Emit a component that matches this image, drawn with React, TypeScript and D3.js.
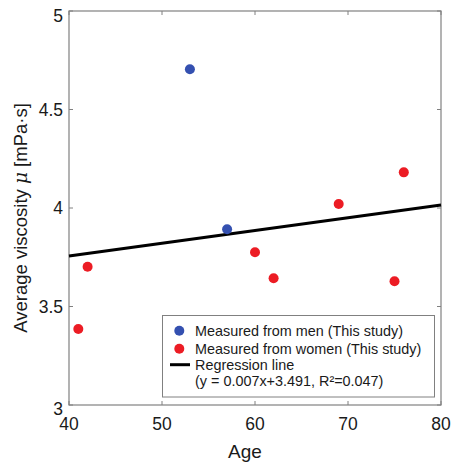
import React from "react";
import * as d3 from "d3";

const menAge = [53, 57];
const menVisc = [4.704, 3.892];
const womenAge = [41, 42, 60, 62, 69, 75, 76];
const womenVisc = [3.386, 3.702, 3.775, 3.643, 4.02, 3.628, 4.181];
const regX = [40, 80];
const regY = [3.756, 4.015];
const xTicks = [40, 50, 60, 70, 80];
const yTicks = [3, 3.5, 4, 4.5, 5];
const legendLabels = [
  "Measured from men (This study)",
  "Measured from women (This study)",
  "Regression line",
  "(y = 0.007x+3.491, R²=0.047)",
];

const W = 452, H = 465;
const L = 69, R = 441, T = 11, B = 405;
const FONT = "Arial, 'Liberation Sans', Helvetica, sans-serif";
const BLUE = "#3450b0";
const RED = "#ec1c24";
const AXIS = "#808080";

export default function App() {
  const x = d3.scaleLinear().domain([40, 80]).range([L, R]);
  const y = d3.scaleLinear().domain([3, 5]).range([B, T]);
  const line = d3.line<number>().x((_, i) => x(regX[i])).y((d) => y(d));
  const tk = 4;
  return (
    <svg width={W} height={H} style={{ position: "absolute", left: 0, top: 0 }} fontFamily={FONT}>
      <rect width={W} height={H} fill="#fff" />
      <rect x={L} y={T} width={R - L} height={B - T} fill="none" stroke={AXIS} strokeWidth={1.2} />
      {xTicks.map((t) => (
        <g key={"x" + t}>
          <line x1={x(t)} x2={x(t)} y1={B} y2={B - tk} stroke={AXIS} />
          <line x1={x(t)} x2={x(t)} y1={T} y2={T + tk} stroke={AXIS} />
          <text x={x(t)} y={430} fontSize={17.5} textAnchor="middle" fill="#1a1a1a">{t}</text>
        </g>
      ))}
      {yTicks.map((t) => (
        <g key={"y" + t}>
          <line x1={L} x2={L + tk} y1={y(t)} y2={y(t)} stroke={AXIS} />
          <line x1={R} x2={R - tk} y1={y(t)} y2={y(t)} stroke={AXIS} />
          <text x={63} y={y(t) + (t === 5 ? 5 : t === 3 ? 3.5 : 0)} dy="0.35em" fontSize={17.5} textAnchor="end" fill="#1a1a1a">{t}</text>
        </g>
      ))}
      <text x={245} y={458} fontSize={19} textAnchor="middle" fill="#1a1a1a">Age</text>
      <text transform="translate(27,218) rotate(-90)" fontSize={18.5} textAnchor="middle" fill="#1a1a1a">
        Average viscosity <tspan fontFamily="'DejaVu Serif', serif" fontStyle="italic">μ</tspan> [mPa·s]
      </text>
      <path d={line(regY) || ""} fill="none" stroke="#000" strokeWidth={3} />
      {menAge.map((a, i) => (
        <circle key={"m" + i} cx={x(a)} cy={y(menVisc[i])} r={5} fill={BLUE} />
      ))}
      {womenAge.map((a, i) => (
        <circle key={"w" + i} cx={x(a)} cy={y(womenVisc[i])} r={5} fill={RED} />
      ))}
      <rect x={162.5} y={315.5} width={272} height={81.5} fill="#fff" stroke={AXIS} strokeWidth={1} />
      <circle cx={179.3} cy={330.7} r={5} fill={BLUE} />
      <circle cx={179.3} cy={348.7} r={5} fill={RED} />
      <line x1={170} x2={190} y1={364.7} y2={364.7} stroke="#000" strokeWidth={3} />
      {legendLabels.map((s, i) => (
        <text key={i} x={195} y={[330.7, 348.7, 364.7, 381.3][i]} dy="0.35em" fontSize={14.4} fill="#1a1a1a">{s}</text>
      ))}
    </svg>
  );
}
